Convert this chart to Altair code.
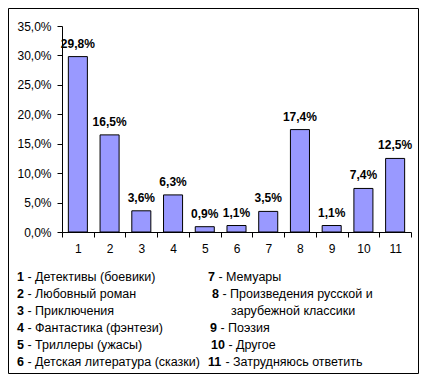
import altair as alt
import pandas as pd

# ---- data ----
categories = ["1", "2", "3", "4", "5", "6", "7", "8", "9", "10", "11"]
values = [29.8, 16.5, 3.6, 6.3, 0.9, 1.1, 3.5, 17.4, 1.1, 7.4, 12.5]
y_ticks = [0, 0.05, 0.10, 0.15, 0.20, 0.25, 0.30, 0.35]

legend_numbers = ["1", "2", "3", "4", "5", "6", "7", "8", "9", "10", "11"]
legend_labels = [
    "Детективы (боевики)",
    "Любовный роман",
    "Приключения",
    "Фантастика (фэнтези)",
    "Триллеры (ужасы)",
    "Детская литература (сказки)",
    "Мемуары",
    "Произведения русской и\nзарубежной классики",
    "Поэзия",
    "Другое",
    "Затрудняюсь ответить",
]

FONT = "Liberation Sans"
BAR_COLOR = "#9999FF"

# layout (absolute page pixels -> view pixels)
PAGE = 8
PAD_L, PAD_T = 54, 18
VIEW_W, VIEW_H = 349, 206
TOTAL_W, TOTAL_H = 411, 366
OX, OY = PAGE + PAD_L, PAGE + PAD_T  # absolute position of plot origin

df = pd.DataFrame({"cat": categories, "share": [v / 100 for v in values]})

base = alt.Chart(df).transform_calculate(
    lbl="replace(format(datum.share, '.1%'), '.', ',')"
)

x_enc = alt.X(
    "cat:N",
    sort=categories,
    scale=alt.Scale(paddingInner=0, paddingOuter=0),
    axis=alt.Axis(title=None, labelAngle=0, tickBand="extent", labelPadding=6),
)
y_enc = alt.Y(
    "share:Q",
    scale=alt.Scale(domain=[0, 0.35], nice=False),
    axis=alt.Axis(
        title=None,
        values=y_ticks,
        labelExpr="replace(format(datum.value, '.1%'), '.', ',')",
        labelPadding=6,
        labelOverlap=False,
        labelFlush=False,
    ),
)

bars = base.mark_bar(
    color=BAR_COLOR, stroke="black", strokeWidth=1, width={"band": 0.6}
).encode(x=x_enc, y=y_enc)

labels = base.mark_text(
    font=FONT, fontSize=12, fontWeight="bold", baseline="bottom", dy=-6, color="black"
).encode(x=x_enc, y=y_enc, text="lbl:N")

one = pd.DataFrame({"a": [0]})
layers = [bars, labels]

# frame around the whole picture
frame = alt.Chart(one).mark_rect(
    fill=None, stroke="black", strokeWidth=1
).encode(
    x=alt.value(0.5 - PAD_L),
    x2=alt.value(TOTAL_W - 0.5 - PAD_L),
    y=alt.value(0.5 - PAD_T),
    y2=alt.value(TOTAL_H - 0.5 - PAD_T),
)
layers.append(frame)

# legend text block below the chart
ROW0, ROW_STEP = 277, 17
LEG_FS = 12.5
DIGIT_W = 0.556 * LEG_FS
SPACE_W = 0.278 * LEG_FS
left_x = [17, 17, 17, 17, 17, 17]
right_x = [208, 212, 210, 211, 208]
right_rows = [0, 1, 3, 4, 5]
cont_x = 231


def txt(s, ax, ay, bold=False):
    return alt.Chart(one).mark_text(
        font=FONT, fontSize=LEG_FS, fontWeight="bold" if bold else "normal",
        align="left", baseline="middle", color="black",
    ).encode(x=alt.value(ax - OX), y=alt.value(ay - OY), text=alt.value(s))


for i in range(11):
    num = legend_numbers[i]
    parts = legend_labels[i].split("\n")
    if i < 6:
        ax = left_x[i]
        row = i
    else:
        ax = right_x[i - 6]
        row = right_rows[i - 6]
    ay = ROW0 + ROW_STEP * row
    layers.append(txt(num, ax, ay, bold=True))
    layers.append(txt("- " + parts[0], ax + DIGIT_W * len(num) + SPACE_W, ay))
    if len(parts) > 1:
        layers.append(txt(parts[1], cont_x, ay + ROW_STEP))

chart = alt.layer(*layers).properties(
    width=VIEW_W,
    height=VIEW_H,
    autosize=alt.AutoSizeParams(type="none"),
    padding={"left": PAD_L, "top": PAD_T,
             "right": TOTAL_W - PAD_L - VIEW_W, "bottom": TOTAL_H - PAD_T - VIEW_H},
    background="white",
).configure_view(stroke=None).configure_axis(
    grid=False,
    domainColor="black",
    domainWidth=1,
    tickColor="black",
    tickWidth=1,
    tickSize=5,
    labelColor="black",
    labelFont=FONT,
    labelFontSize=12,
)

chart.save("out.html", embed_options={"renderer": "svg", "actions": False})
